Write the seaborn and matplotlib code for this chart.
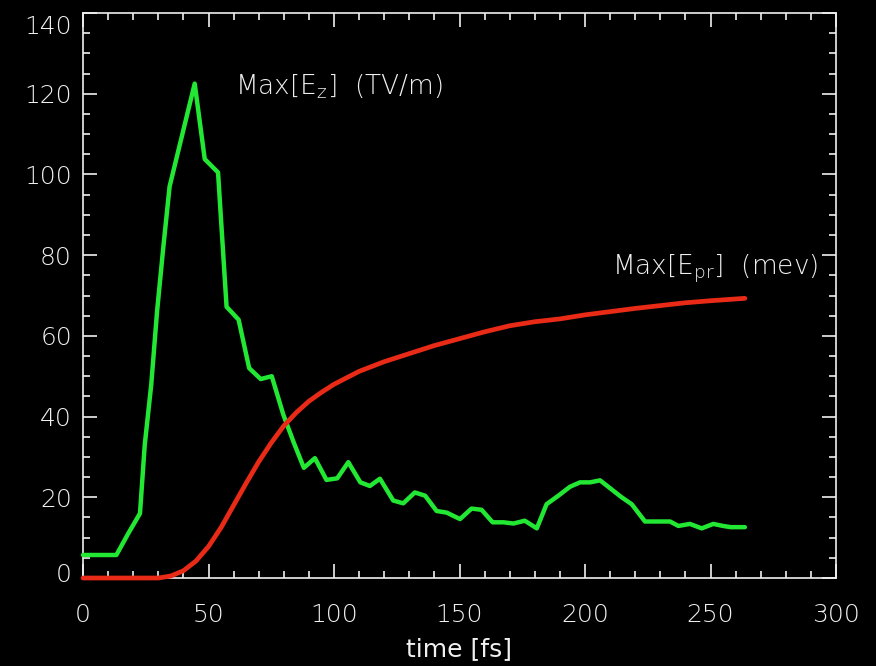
import matplotlib
matplotlib.use("Agg")
import matplotlib.pyplot as plt
from matplotlib.ticker import MultipleLocator
from matplotlib.transforms import ScaledTranslation
import pandas as pd
import seaborn as sns

# Peak longitudinal field Max[E_z] (TV/m) versus time (fs)
time_ez = [0, 4.5, 9, 13.3, 18, 22.7, 24.6, 27.2, 29.5, 32, 34.5, 44.5, 48.5,
           53.8, 57.2, 62, 66.2, 70.8, 75.2, 79.8, 84, 88, 92.4, 97, 101.3,
           105.7, 110.5, 114.3, 118.3, 123.6, 127.6, 132.2, 136.3, 140.9, 144.9,
           150.2, 154.8, 158.8, 163.2, 167.5, 171.5, 176, 180.8, 184.7, 189.4,
           194, 198, 202, 206, 210.5, 214.6, 218.6, 223.9, 228.5, 233.9, 237.2,
           241.8, 246.5, 251.1, 255, 258, 263.7]
max_ez = [5.7, 5.7, 5.7, 5.7, 11, 16, 33, 48, 66, 82, 97, 122.5, 103.8,
          100.5, 67.2, 64, 52, 49.3, 50, 40.5, 33.5, 27.3, 29.7, 24.3, 24.7,
          28.7, 23.7, 22.8, 24.6, 19.2, 18.5, 21.2, 20.4, 16.6, 16.2,
          14.6, 17.2, 16.9, 13.8, 13.8, 13.5, 14.2, 12.3, 18.3, 20.4,
          22.6, 23.7, 23.7, 24.2, 22, 20, 18.3, 14, 14, 14, 12.9,
          13.4, 12.3, 13.4, 12.9, 12.6, 12.6]

# Maximum proton energy Max[E_pr] (MeV) versus time (fs)
time_epr = [0, 10, 20, 30, 35, 40, 45, 50, 55, 60, 65, 70, 75, 80, 85, 90, 95,
            100, 110, 120, 130, 140, 150, 160, 170, 180, 190, 200, 210, 220,
            230, 240, 250, 263.7]
max_epr = [0, 0, 0, 0, 0.5, 1.8, 4.2, 7.8, 12.5, 18, 23.5, 28.8, 33.5, 37.7,
           41, 43.8, 46, 48, 51.2, 53.6, 55.6, 57.6, 59.3, 61, 62.5, 63.5,
           64.2, 65.2, 66, 66.8, 67.5, 68.2, 68.7, 69.3]

x_ticks = [0, 50, 100, 150, 200, 250, 300]
y_ticks = [0, 20, 40, 60, 80, 100, 120, 140]

ez_df = pd.DataFrame({"time": time_ez, "value": max_ez})
epr_df = pd.DataFrame({"time": time_epr, "value": max_epr})

sns.set_theme(style="ticks")
fg = "#f0f0f0"
plt.rcParams.update({
    "font.family": ["DejaVu Sans"],
    "font.weight": "light",
    "mathtext.fontset": "custom",
    "mathtext.rm": "DejaVu Sans:light",
    "mathtext.it": "DejaVu Sans:light",
    "figure.facecolor": "black",
    "axes.facecolor": "black",
    "axes.edgecolor": fg,
    "axes.labelcolor": fg,
    "xtick.color": fg,
    "ytick.color": fg,
    "text.color": fg,
})

fig = plt.figure(figsize=(8.76, 6.66), dpi=100)
ax = fig.add_axes([83 / 876, 88 / 666, 753 / 876, 565 / 666])

green = "#22e834"
red = "#e82a16"
sns.lineplot(data=ez_df, x="time", y="value", ax=ax, color=green,
             linewidth=3.2, clip_on=False, zorder=3)
sns.lineplot(data=epr_df, x="time", y="value", ax=ax, color=red,
             linewidth=3.4, clip_on=False, zorder=4)

ax.set_xlim(0, 300)
ax.set_ylim(0, 140)
ax.set_xticks(x_ticks)
ax.set_yticks(y_ticks)
ax.set_xticklabels([str(t) for t in x_ticks])
ax.set_yticklabels([str(t) for t in y_ticks])
ax.xaxis.set_minor_locator(MultipleLocator(10))
ax.yaxis.set_minor_locator(MultipleLocator(5))

for side in ax.spines.values():
    side.set_visible(True)
    side.set_linewidth(1.2)
    side.set_color(fg)

ax.tick_params(which="both", direction="in", top=True, right=True,
               width=1.2, colors=fg, labelsize=18)
ax.tick_params(which="major", length=10)
ax.tick_params(which="minor", length=5)
ax.tick_params(axis="x", pad=18)
ax.tick_params(axis="y", pad=8)

# keep the end labels of the value axis inside the frame
ylabels = ax.get_yticklabels()
ylabels[0].set_transform(ylabels[0].get_transform()
                         + ScaledTranslation(0, 6 / 100, fig.dpi_scale_trans))
ylabels[-1].set_transform(ylabels[-1].get_transform()
                          + ScaledTranslation(0, -11 / 100, fig.dpi_scale_trans))

ax.set_xlabel("time [fs]", fontsize=18, labelpad=7)
ax.set_ylabel("")

ax.text(60.5, 119.7, r"Max[$\mathrm{E_z}$]  (TV/m)", fontsize=19,
        ha="left", va="baseline", color=fg)
ax.text(210.6, 75.1, r"Max[$\mathrm{E_{pr}}$]  (mev)", fontsize=19,
        ha="left", va="baseline", color=fg)

fig.savefig("out.png", dpi=100, facecolor="black")
